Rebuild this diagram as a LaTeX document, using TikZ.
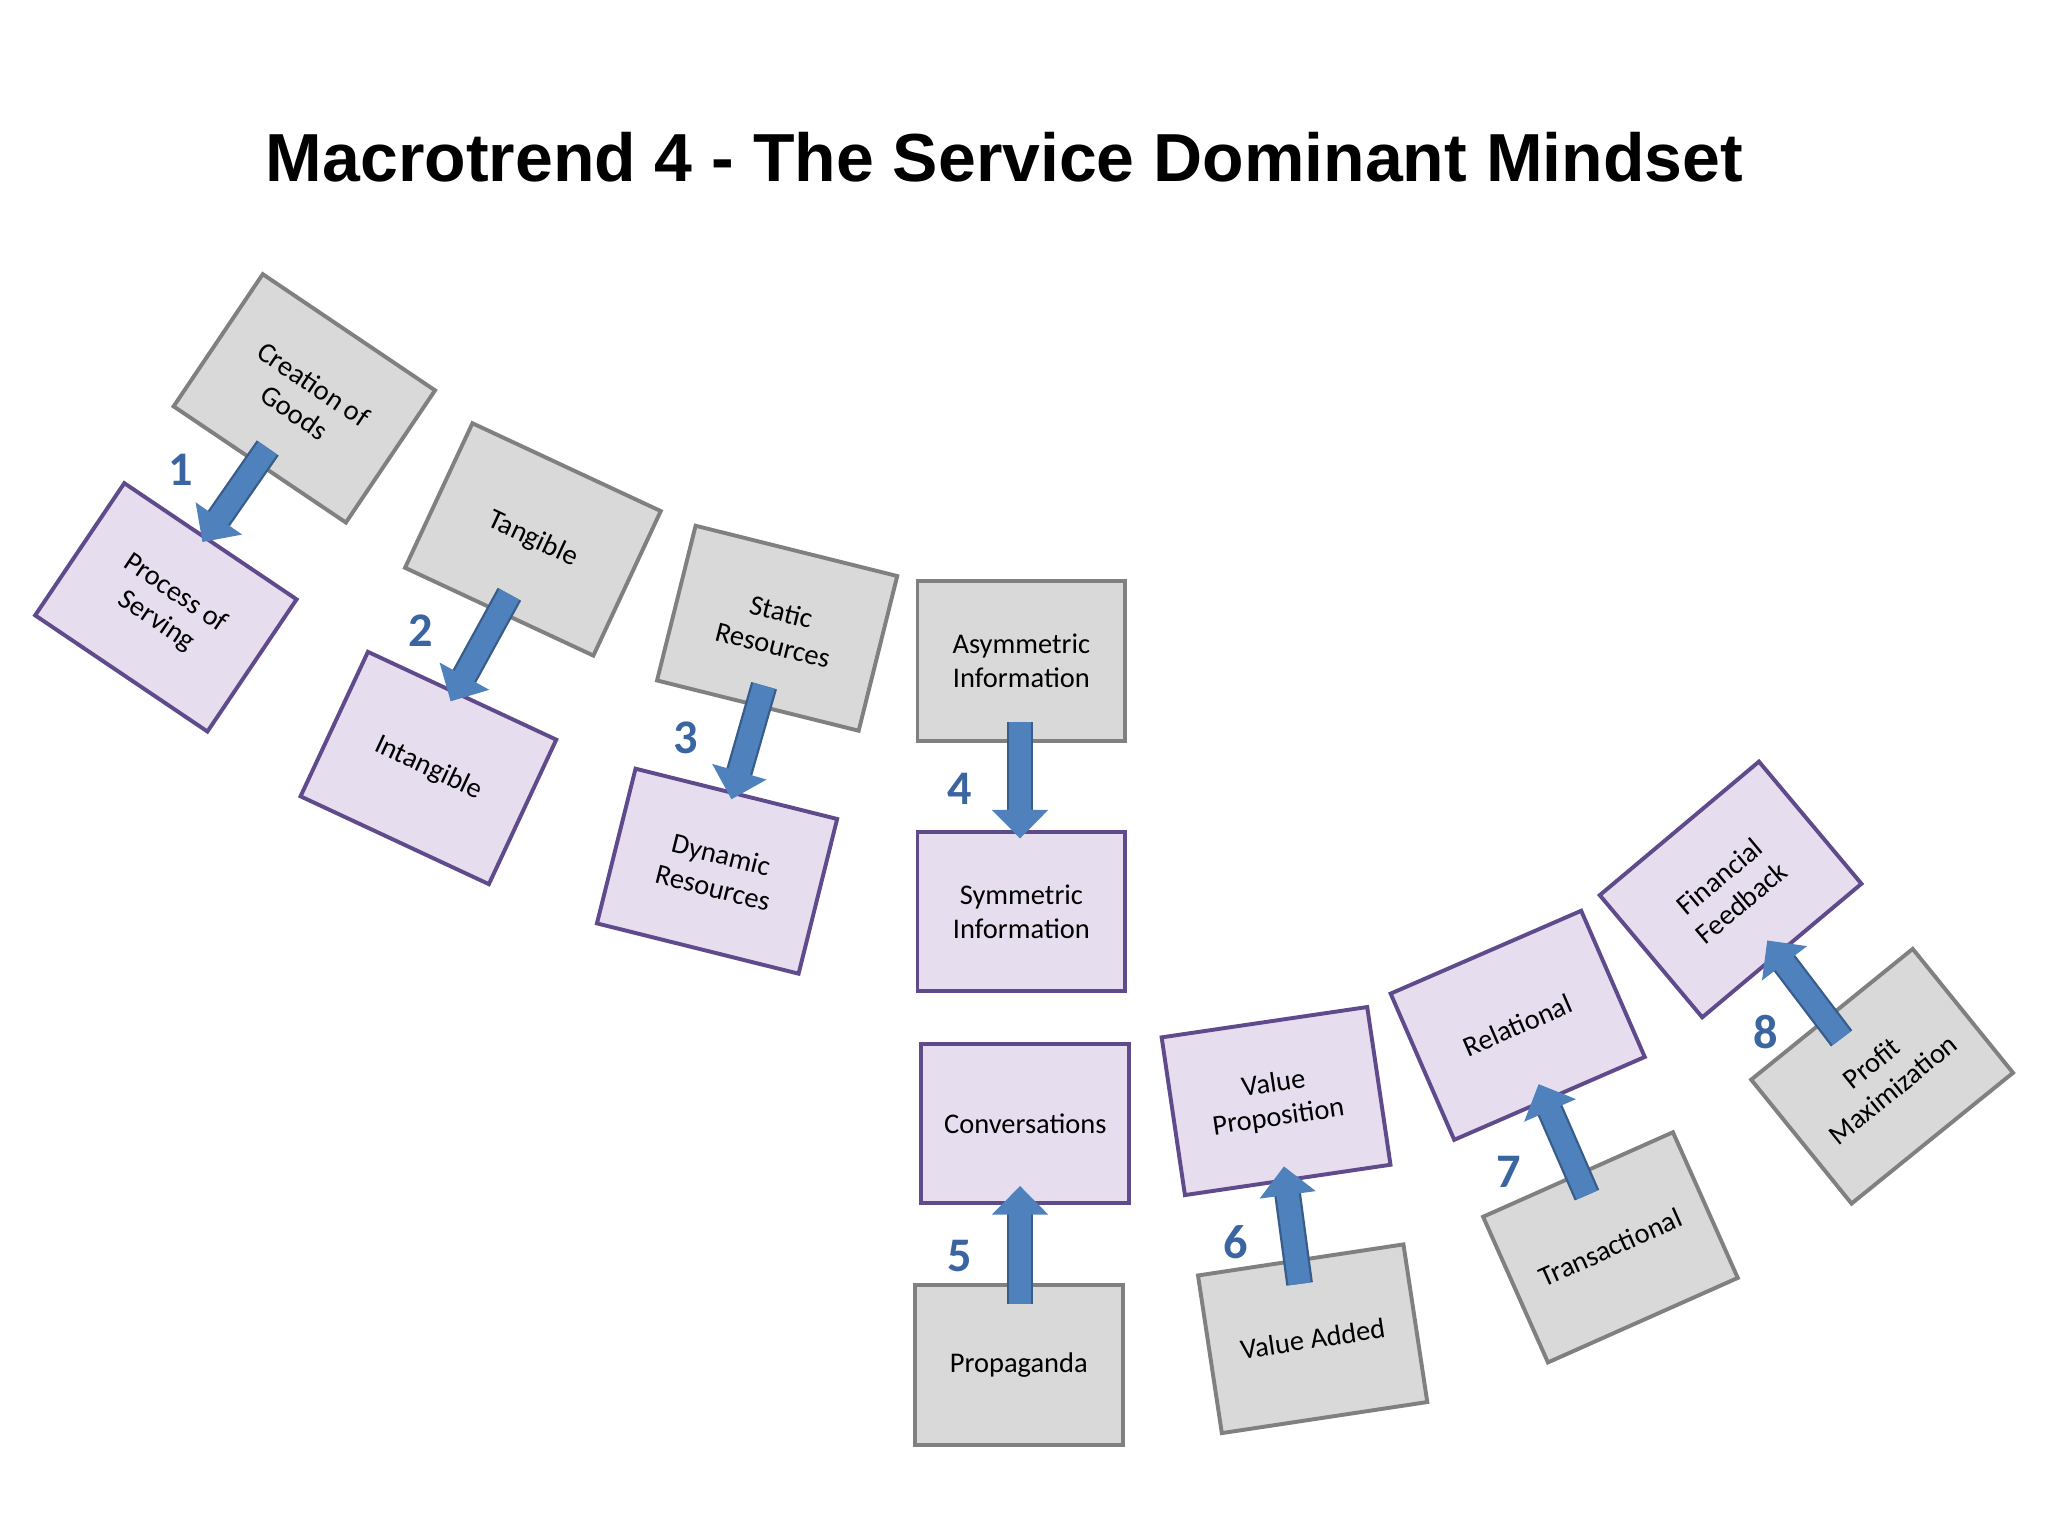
\documentclass[tikz,border=0pt]{standalone}
\usepackage{fontspec}
\setmainfont{Carlito}
\newfontfamily\titlefont{Liberation Sans}
\usetikzlibrary{arrows.meta}
\definecolor{gfill}{HTML}{D9D9D9}
\definecolor{gline}{HTML}{808080}
\definecolor{pfill}{HTML}{E6DEEE}
\definecolor{pline}{HTML}{5F4B8B}
\definecolor{afill}{HTML}{4F81BD}
\definecolor{aline}{HTML}{385D8A}
\definecolor{numc}{HTML}{3A65A0}
\tikzset{
  box/.style={minimum width=1.59cm, minimum height=1.22cm, line width=0.03cm, align=center, font=\fontsize{6.2}{7.4}\selectfont, inner sep=0pt},
  oldbox/.style={box, fill=gfill, draw=gline},
  newbox/.style={box, fill=pfill, draw=pline},
  barrow/.style={line width=0.17cm, afill, -{Triangle[length=0.22cm,width=0.42cm]},
     preaction={draw=aline, line width=0.205cm, -, shorten >=0.17cm}},
  num/.style={font=\bfseries\fontsize{10.5}{10.5}\selectfont, text=numc}
}
\begin{document}
\begin{tikzpicture}[x=0.01cm,y=-0.01cm]
\useasboundingbox[fill=white] (0,0) rectangle (1568,1176);
\node[font=\titlefont\bfseries\fontsize{14.8}{17}\selectfont] (title) at (769,120) {Macrotrend 4 - The Service Dominant Mindset};
\node[oldbox, rotate=-34] (o1) at (233,305) {Creation of\\Goods};
\node[newbox, rotate=-34] (n1) at (127,465) {Process of\\Serving};
\node[oldbox, rotate=-25] (o2) at (408,413) {Tangible};
\node[newbox, rotate=-25] (n2) at (328,588) {Intangible};
\node[oldbox, rotate=-14] (o3) at (595,481) {Static\\Resources};
\node[newbox, rotate=-14] (n3) at (549,667) {Dynamic\\Resources};
\node[oldbox] (o4) at (782,506) {Asymmetric\\Information};
\node[newbox] (n4) at (782,698) {Symmetric\\Information};
\node[newbox] (n5) at (785,860) {Conversations};
\node[oldbox] (o5) at (780,1045) {Propaganda};
\node[newbox, rotate=8.4] (n6) at (977,843) {Value\\Proposition};
\node[oldbox, rotate=8.6] (o6) at (1005,1025) {Value Added};
\node[newbox, rotate=23.5] (n7) at (1162,785) {Relational};
\node[oldbox, rotate=24] (o7) at (1233,955) {Transactional};
\node[newbox, rotate=40] (n8) at (1325,681) {Financial\\Feedback};
\node[oldbox, rotate=39] (o8) at (1441,824) {Profit\\Maximization};
\coordinate (s1) at (205,343); \coordinate (e1) at (155,415);
\coordinate (s2) at (390,455); \coordinate (e2) at (345,537);
\coordinate (s3) at (585,525); \coordinate (e3) at (560,612);
\coordinate (s4) at (781,553); \coordinate (e4) at (781,642);
\coordinate (s5) at (781,998); \coordinate (e5) at (781,908);
\coordinate (s6) at (995,983); \coordinate (e6) at (983,893);
\coordinate (s7) at (1215,915); \coordinate (e7) at (1178,830);
\coordinate (s8) at (1410,795); \coordinate (e8) at (1353,720);
\foreach \i in {1,...,8} {\draw[barrow] (s\i) -- (e\i);}
\node[num] (l1) at (138,360) {1};
\node[num] (l2) at (322,483) {2};
\node[num] (l3) at (525,565) {3};
\node[num] (l4) at (735,604) {4};
\node[num] (l5) at (735,962) {5};
\node[num] (l6) at (946,951) {6};
\node[num] (l7) at (1155,897) {7};
\node[num] (l8) at (1352,790) {8};
\end{tikzpicture}
\end{document}
